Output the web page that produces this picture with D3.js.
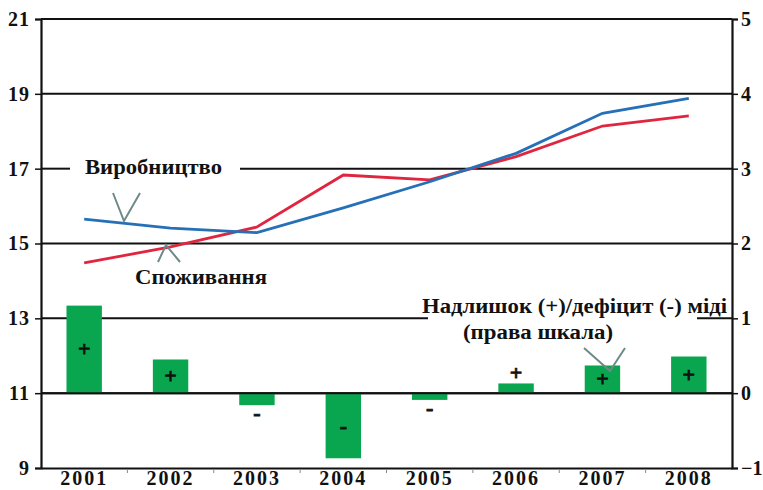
<!DOCTYPE html>
<html><head><meta charset="utf-8">
<script src="https://cdn.jsdelivr.net/npm/d3@7/dist/d3.min.js"></script>
<style>
body{margin:0;background:#fff;}
text{font-family:"Liberation Serif","DejaVu Serif","Times New Roman",serif !important;font-weight:bold;fill:#111;}
</style></head>
<body><svg id="c" width="763" height="490"></svg>
<script>
const years = ["2001","2002","2003","2004","2005","2006","2007","2008"];
const production = [15.65, 15.41, 15.29, 15.95, 16.65, 17.41, 18.48, 18.88];
const consumption = [14.48, 14.91, 15.44, 16.83, 16.7, 17.32, 18.14, 18.41];
const balance = [1.17, 0.45, -0.16, -0.87, -0.09, 0.13, 0.37, 0.49];
const leftTicks = [9, 11, 13, 15, 17, 19, 21];
const rightTicks = [-1, 0, 1, 2, 3, 4, 5];
const gridValues = [11, 13, 15, 17, 19, 21];

const svg = d3.select("#c");
const L = 41, R = 732, T = 19, B = 468;
const x = d3.scaleBand().domain(years).range([L, R]);
const yL = d3.scaleLinear().domain([9, 21]).range([B, T]);
const yR = d3.scaleLinear().domain([-1, 5]).range([B, T]);
const cx = d => x(d) + x.bandwidth() / 2;
const barW = x.bandwidth() * 0.41;

// gridlines (with gaps where labels sit)
const gaps = {17: [[70, 240]], 13: [[428, 697]]};
gridValues.forEach(v => {
  let segs = [[L, R]];
  (gaps[v] || []).forEach(([a, b]) => {
    segs = segs.flatMap(([s, e]) => {
      const out = [];
      if (a > s) out.push([s, Math.min(a, e)]);
      if (b < e) out.push([Math.max(b, s), e]);
      return out;
    });
  });
  segs.forEach(([s, e]) => {
    svg.append("line").attr("x1", s).attr("x2", e)
      .attr("y1", yL(v)).attr("y2", yL(v))
      .attr("stroke", "#111").attr("stroke-width", 2);
  });
});

// bars
svg.append("g").selectAll("rect").data(balance).join("rect")
  .attr("x", (d, i) => cx(years[i]) - barW / 2)
  .attr("width", barW)
  .attr("y", d => yR(Math.max(0, d)))
  .attr("height", d => Math.abs(yR(d) - yR(0)))
  .attr("fill", "#0aa64f");
svg.append("line").attr("x1", L).attr("x2", R).attr("y1", yR(0)).attr("y2", yR(0))
  .attr("stroke", "#111").attr("stroke-width", 2);

// signs
svg.append("g").selectAll("text").data(balance).join("text")
  .attr("x", (d, i) => cx(years[i]))
  .attr("y", d => {
    const h = Math.abs(yR(d) - yR(0));
    if (h > 22) return (yR(d) + yR(0)) / 2 + 7;
    return d >= 0 ? yR(d) - 3 : yR(d) + 15;
  })
  .attr("text-anchor", "middle").style("font-size", "22px")
  .attr("stroke", "#111").attr("stroke-width", 0.8)
  .text(d => d >= 0 ? "+" : "-");

// lines
const line = d3.line().x((d, i) => cx(years[i]));
svg.append("path").datum(consumption)
  .attr("d", line.y(d => yL(d)))
  .attr("fill", "none").attr("stroke", "#e0253f").attr("stroke-width", 2.8);
svg.append("path").datum(production)
  .attr("d", line.y(d => yL(d)))
  .attr("fill", "none").attr("stroke", "#2570b6").attr("stroke-width", 2.8);

// axes
const axL = svg.append("g").attr("transform", `translate(${L},0)`)
  .call(d3.axisLeft(yL).tickValues(leftTicks).tickSize(6).tickFormat(d3.format("d")));
const axR = svg.append("g").attr("transform", `translate(${R},0)`)
  .call(d3.axisRight(yR).tickValues(rightTicks).tickSize(6).tickFormat(d3.format("d")));
const axB = svg.append("g").attr("transform", `translate(0,${B})`)
  .call(d3.axisBottom(x).tickSize(0).tickPadding(3));
[axL, axR, axB].forEach(g => {
  g.attr("font-family", null).attr("font-size", null);
  g.select(".domain").attr("stroke", "#111").attr("stroke-width", 2.2);
  g.selectAll(".tick line").attr("stroke", "#111").attr("stroke-width", 1.5);
  g.selectAll("text").style("font-size", "20px").attr("fill", "#111");
});
axL.selectAll("text").attr("dx", "-2px").style("letter-spacing", "1px");
axR.selectAll("text").attr("dx", "0px");
axB.selectAll("text").style("letter-spacing", "2px");
svg.append("line").attr("x1", L).attr("x2", R).attr("y1", T).attr("y2", T)
  .attr("stroke", "#111").attr("stroke-width", 2.2);
svg.append("g").selectAll("line").data(years.slice(1)).join("line")
  .attr("x1", d => x(d)).attr("x2", d => x(d)).attr("y1", B + 1).attr("y2", B + 5)
  .attr("stroke", "#888").attr("stroke-width", 1);

// labels
const lab = (tx, x0, y0, w) => svg.append("text").attr("x", x0).attr("y", y0)
  .style("font-size", "20px").attr("textLength", w).attr("lengthAdjust", "spacingAndGlyphs").text(tx);
lab("Виробництво", 85, 174, 137);
lab("Споживання", 135, 284, 132);
lab("Надлишок (+)/дефіцит (-) міді", 422, 313, 305);
lab("(права шкала)", 463, 339, 150);

// pointers
const ptr = (pts) => svg.append("path").attr("d", d3.line()(pts))
  .attr("fill", "none").attr("stroke", "#6e8a88").attr("stroke-width", 2);
ptr([[113, 193], [124, 221], [140, 193]]);
ptr([[158, 262], [166, 245], [180, 262]]);
ptr([[584, 348], [610, 371], [625, 348]]);
</script></body></html>
